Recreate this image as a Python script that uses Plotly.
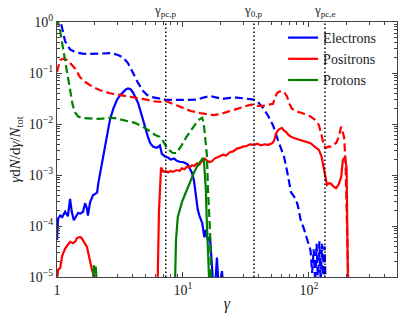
import math
import plotly.graph_objects as go

# electrons, dashed (total)
e_tot_x = [1.0, 1.07, 1.16, 1.27, 1.4, 1.6, 1.8, 2.1, 2.4, 2.7, 3.05, 3.35, 3.66, 4.0, 4.4, 4.8, 5.2, 5.6, 6.0, 6.6,
           7.2, 8.2, 9.5, 11, 12.9, 14.5, 16.4, 18.5, 20.8, 23.5, 26.8, 30, 34, 36.6, 39.4, 43, 47, 51.8, 56.7, 60,
           63.4, 67, 72, 76, 79, 82, 86, 91, 96, 100, 103, 106, 109, 112, 115, 118, 121, 124, 127, 130, 133, 136]
e_tot_y = [1.5, 1.0, 0.42, 0.29, 0.255, 0.24, 0.236, 0.238, 0.245, 0.245, 0.225, 0.2, 0.157, 0.1, 0.064, 0.045, 0.037, 0.034, 0.033, 0.032,
           0.030, 0.0296, 0.0296, 0.0296, 0.030, 0.033, 0.0354, 0.033, 0.031, 0.0325, 0.033, 0.032, 0.031, 0.030, 0.027, 0.021, 0.015, 0.0095, 0.0049, 0.0034,
           0.0023, 0.0012, 0.00046, 0.00038, 0.00033, 0.00024, 0.00013, 0.00009, 0.00006, 0.00004, 0.000033, 0.000012, 0.000035, 0.000008, 0.000045, 0.000008, 0.00005, 0.000008, 0.000045, 0.000008, 0.00004, 0.000005]

# electrons, solid
e_x = [1.0, 1.02, 1.06, 1.1, 1.16, 1.22, 1.27, 1.31, 1.36, 1.42, 1.47, 1.53, 1.61, 1.67, 1.73, 1.76, 1.83, 1.93, 2.08, 2.13,
       2.28, 2.4, 2.52, 2.63, 2.8, 2.99, 3.15, 3.34, 3.5, 3.66, 3.83, 4.0, 4.2, 4.4, 4.6, 4.8, 5.0, 5.27, 5.5, 5.78,
       6.0, 6.2, 6.4, 6.56, 6.8, 7.2, 7.6, 8.0, 8.5, 8.94, 9.5, 10, 10.5, 10.95, 11.4, 11.8, 12.2, 12.5, 13.1, 13.6,
       14.2, 14.8, 15.2, 15.8, 16.4, 17, 17.3, 17.9, 18.6, 19.3, 20.4, 21]
e_y = [5.3e-5, 1.4e-4, 1.6e-4, 1.5e-4, 1.9e-4, 1.55e-4, 3.4e-4, 1.9e-4, 1.3e-4, 1.6e-4, 1.8e-4, 1.75e-4, 1.9e-4, 2.8e-4, 2.2e-4, 1.6e-4, 2.9e-4, 4.0e-4, 4.5e-4, 7e-4,
       1.7e-3, 3.5e-3, 7e-3, 0.012, 0.02, 0.0296, 0.036, 0.042, 0.047, 0.05, 0.048, 0.042, 0.034, 0.026, 0.018, 0.012, 0.0085, 0.0056, 0.0042, 0.0036,
       0.0035, 0.0034, 0.0036, 0.0038, 0.0026, 0.0023, 0.0022, 0.0020, 0.0021, 0.0019, 0.0018, 0.0018, 0.0017, 0.0016, 0.0013, 0.0011, 0.0008, 0.00051, 0.00021, 0.00015,
       0.000115, 0.00006, 0.000085, 0.00005, 0.00006, 0.000016, 0.000008, 0.000005, 0.000024, 0.000005, 0.000013, 0.000005]

# positrons, dashed (total)
p_tot_x = [1.0, 1.03, 1.06, 1.12, 1.2, 1.27, 1.4, 1.52, 1.7, 1.93, 2.2, 2.63, 3.2, 4.0, 4.8, 5.78, 6.6, 7.2, 7.87, 9.0,
           10, 11.5, 13.6, 15.5, 17.3, 19.5, 22.4, 25, 28.4, 31, 34, 36.6, 39.4, 43, 47.3, 51.8, 55.7, 58, 61, 64,
           66.8, 70, 73.3, 80, 88, 97, 103, 112, 120, 126, 131, 136, 143, 150, 158, 165, 172, 180, 185, 190,
           195, 198, 202, 206]
p_tot_y = [0.105, 0.15, 0.18, 0.19, 0.18, 0.157, 0.12, 0.083, 0.065, 0.053, 0.046, 0.04, 0.037, 0.034, 0.031, 0.028, 0.027, 0.029, 0.026, 0.023,
           0.0205, 0.018, 0.0164, 0.0155, 0.015, 0.0155, 0.0171, 0.019, 0.0205, 0.022, 0.0237, 0.024, 0.0226, 0.0226, 0.0237, 0.025, 0.04, 0.043, 0.0444, 0.041,
           0.035, 0.025, 0.02, 0.0175, 0.0164, 0.015, 0.014, 0.012, 0.0095, 0.006, 0.0038, 0.0034, 0.0036, 0.0036, 0.004, 0.0043, 0.0055, 0.0088, 0.007, 0.0056,
           0.002, 0.0004, 0.00005, 0.000005]

# positrons, solid
p_x = [1.0, 1.02, 1.06, 1.1, 1.16, 1.22, 1.27, 1.34, 1.4, 1.44, 1.52, 1.57, 1.61, 1.67, 1.73, 1.78, 1.83, 1.88, 1.93, 1.97, 2.0,
       6.2, 6.45, 6.7, 7.0, 7.3, 7.6, 8.0, 8.3, 8.9, 9.4, 9.8, 10.3, 10.7, 11.2, 11.8, 12.3, 12.9, 13.5, 14.1, 14.9,
       15.5, 16.2, 17, 17.8, 18.6, 19.6, 20.8, 22, 23.6, 25, 26.8, 28.3, 29.9, 32, 34, 36.6, 39, 41.5, 44.6, 47.5,
       50.9, 52.7, 54.8, 57.5, 61, 63, 65.7, 68.5, 72, 78, 86, 94, 103, 111, 120, 126, 130, 134, 139, 144,
       149, 156, 164, 172, 180, 186, 193, 199, 202, 204, 206]
p_y = [8e-6, 1.4e-5, 1.5e-5, 2.6e-5, 3.6e-5, 4.2e-5, 4.9e-5, 4.6e-5, 5.0e-5, 5.8e-5, 6.1e-5, 5.8e-5, 5.3e-5, 4.6e-5, 3.9e-5, 2.8e-5, 1.9e-5, 1.5e-5, 1.2e-5, 9e-6, 1e-6,
       1e-6, 2e-4, 1.4e-3, 1.15e-3, 1.2e-3, 1.12e-3, 1.2e-3, 1.15e-3, 1.25e-3, 1.2e-3, 1.35e-3, 1.3e-3, 1.45e-3, 1.4e-3, 1.55e-3, 1.5e-3, 1.7e-3, 1.6e-3, 1.85e-3, 2.1e-3,
       1.9e-3, 1.8e-3, 1.85e-3, 2.1e-3, 2.2e-3, 2.3e-3, 2.5e-3, 2.4e-3, 2.8e-3, 2.9e-3, 3.3e-3, 3.4e-3, 3.6e-3, 3.7e-3, 4.0e-3, 3.9e-3, 4.1e-3, 3.8e-3, 4.0e-3, 3.9e-3,
       4.2e-3, 4.6e-3, 6.5e-3, 7.8e-3, 8.4e-3, 7.5e-3, 7.0e-3, 6.2e-3, 5.6e-3, 5.2e-3, 4.8e-3, 4.5e-3, 4.2e-3, 3.6e-3, 3.1e-3, 2.3e-3, 1.6e-3, 1.1e-3, 6.4e-4, 6.9e-4,
       6.8e-4, 6.0e-4, 5.5e-4, 6.5e-4, 9e-4, 2.0e-3, 2.2e-3, 1.4e-3, 2e-4, 1e-5, 1e-6]

# protons, dashed (total)
i_tot_x = [1.0, 1.03, 1.056, 1.1, 1.157, 1.21, 1.27, 1.33, 1.39, 1.47, 1.58, 1.75, 2.0, 2.3, 2.54, 2.9, 3.28, 3.7, 4.16, 4.6,
           5.0, 5.5, 6.0, 6.56, 7.0, 7.46, 8.0, 8.3, 8.9, 9.4, 10, 10.6, 11.35, 12.1, 12.9, 13.6, 14.2, 14.6, 14.9, 15.2,
           15.5, 15.8, 16.1, 16.4, 16.7, 17]
i_tot_y = [1.2, 0.95, 0.7, 0.38, 0.18, 0.085, 0.04, 0.024, 0.017, 0.014, 0.0132, 0.0128, 0.0126, 0.0127, 0.0132, 0.013, 0.012, 0.0112, 0.0105, 0.0094,
           0.0084, 0.0072, 0.0061, 0.0056, 0.0045, 0.0034, 0.0029, 0.0027, 0.0027, 0.0033, 0.0042, 0.0055, 0.007, 0.0088, 0.0109, 0.0125, 0.0132, 0.0105, 0.0065, 0.004,
           0.0024, 0.0005, 0.0002, 0.00008, 0.00001, 0.000001]

# protons, solid
i_x = [1.9, 1.93, 1.96, 2.0, 2.03, 2.06, 2.1, 8.5, 8.62, 8.8, 9.1, 9.5, 9.8, 10.35, 10.95, 11.4, 11.8, 12.3, 12.9, 13.6,
       14.1, 14.4, 14.7, 15.0, 15.2, 15.4, 15.6, 15.8, 16.1, 16.4, 16.7]
i_y = [1e-6, 1e-5, 1.7e-5, 1.2e-5, 1.6e-5, 9e-6, 1e-6, 1e-6, 1e-5, 5.3e-5, 1.5e-4, 2.2e-4, 2.9e-4, 4.1e-4, 5.8e-4, 7.3e-4, 9.1e-4, 1.15e-3, 1.45e-3, 1.8e-3,
       2.0e-3, 2.16e-3, 1.8e-3, 9e-4, 5e-4, 1.6e-4, 8e-5, 5e-5, 2.5e-5, 1e-5, 1e-6]

marker_x = [7.3, 36.6, 134]
marker_labels = ["γ<sub>pc,p</sub>", "γ<sub>0,p</sub>", "γ<sub>pc,e</sub>"]

species = ["Electrons", "Positrons", "Protons"]
colors = ["#0000ff", "#ff0000", "#008000"]

FONT = "Liberation Serif"
DASH = "8px,4px"

fig = go.Figure()

series = [
    (e_x, e_y, e_tot_x, e_tot_y),
    (p_x, p_y, p_tot_x, p_tot_y),
    (i_x, i_y, i_tot_x, i_tot_y),
]
for (sx, sy, tx, ty), name, col in zip(series, species, colors):
    fig.add_trace(go.Scatter(x=sx, y=sy, mode="lines", line=dict(color=col, width=2.2), showlegend=False))
    fig.add_trace(go.Scatter(x=tx, y=ty, mode="lines", line=dict(color=col, width=2.2, dash=DASH), showlegend=False))

# legend entries only
for name, col in zip(species, colors):
    fig.add_trace(go.Scatter(x=[None], y=[None], mode="lines", name=name, line=dict(color=col, width=2.2)))

for xv, lab in zip(marker_x, marker_labels):
    fig.add_trace(go.Scatter(x=[xv, xv], y=[1e-5, 1], mode="lines", showlegend=False,
                             line=dict(color="black", width=1.5, dash="1.5px,2.5px")))
    fig.add_annotation(x=math.log10(xv), y=1, xref="x", yref="paper", yanchor="bottom",
                       text=lab, showarrow=False, yshift=1, font=dict(family=FONT, size=13, color="#222"))

axis_common = dict(showline=True, linecolor="#444", linewidth=1.2, mirror="allticks", ticks="inside",
                   ticklen=5, tickcolor="#444", showgrid=False, zeroline=False, automargin=False,
                   tickfont=dict(family=FONT, size=14, color="#222"),
                   minor=dict(ticks="inside", ticklen=3, tickcolor="#444", dtick="D1", showgrid=False))

fig.update_xaxes(type="log", range=[0, math.log10(500)],
                 tickvals=[1, 10, 100], ticktext=["1", "10<sup>1</sup>", "10<sup>2</sup>"],
                 title=dict(text="<i>γ</i>", font=dict(family=FONT, size=16, color="#222"), standoff=0),
                 **axis_common)
fig.update_yaxes(type="log", range=[-5, 0],
                 tickvals=[1e-5, 1e-4, 1e-3, 1e-2, 1e-1, 1],
                 ticktext=["10<sup>−5</sup>", "10<sup>−4</sup>", "10<sup>−3</sup>", "10<sup>−2</sup>", "10<sup>−1</sup>", "10<sup>0</sup>"],
                 title=dict(text="<i>γ</i>d<i>N</i>/d<i>γ</i>/<i>N</i><sub>tot</sub>", font=dict(family=FONT, size=15, color="#222"), standoff=4),
                 **axis_common)

fig.update_layout(
    width=408, height=321,
    margin=dict(l=57, r=11, t=22, b=44),
    plot_bgcolor="white", paper_bgcolor="white",
    legend=dict(x=0.665, y=1.0, xanchor="left", yanchor="top", bgcolor="rgba(0,0,0,0)",
                font=dict(family=FONT, size=14, color="#222"), itemwidth=30, tracegroupgap=0),
)

# page body has a default 8px margin; drop it so the figure sits at the window corner
fig.write_html("out.html", config={"displayModeBar": False},
               post_script="document.body.style.margin='0';")
